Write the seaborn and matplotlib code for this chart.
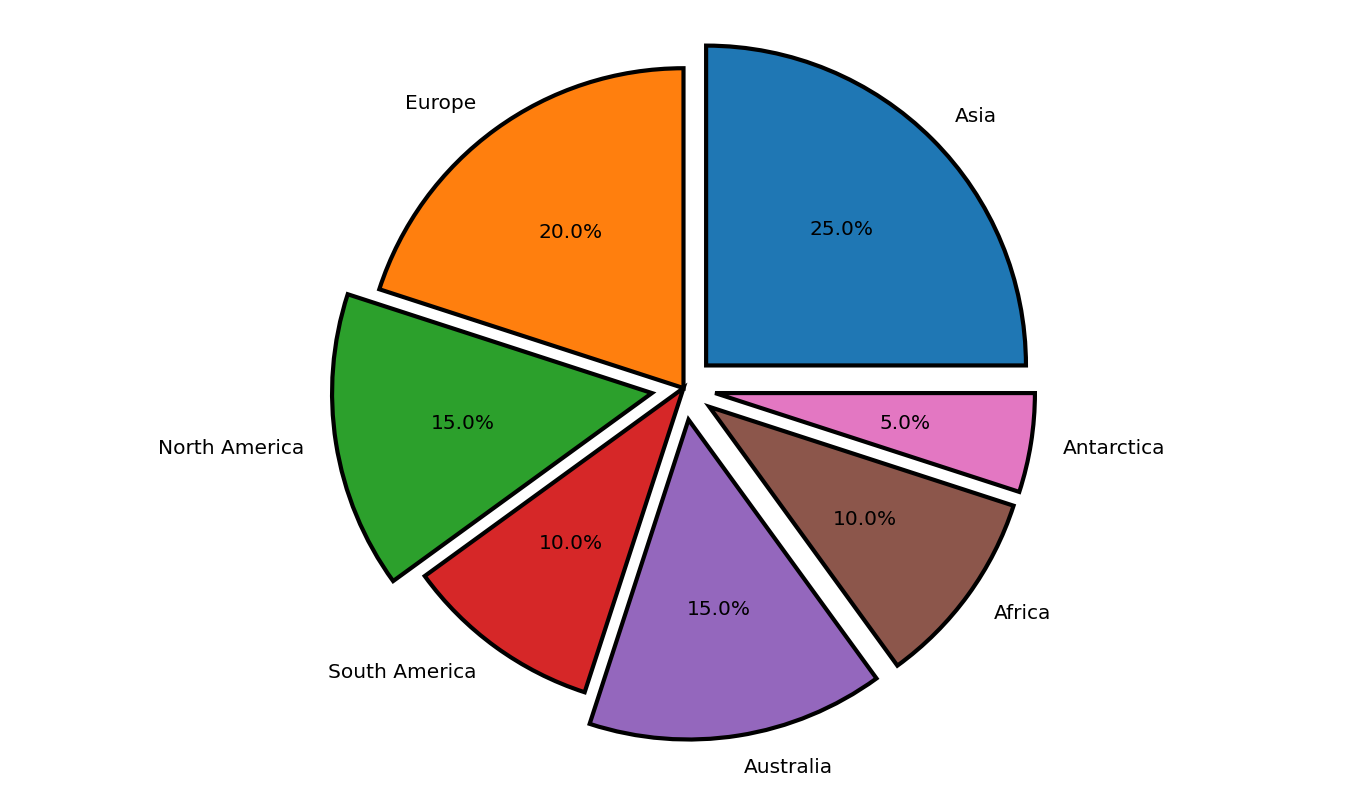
import matplotlib
matplotlib.use("Agg")
import matplotlib.pyplot as plt
import seaborn as sns

continents = ["Asia", "Europe", "North America", "South America", "Australia", "Africa", "Antarctica"]
shares = [25, 20, 15, 10, 15, 10, 5]
explode = [0.1, 0, 0.1, 0, 0.1, 0.1, 0.1]

sns.set_theme(style="white")
plt.rcParams['font.family'] = ['DejaVu Sans']
colors = sns.color_palette("tab10", len(continents))

fig, ax = plt.subplots(figsize=(13.67, 7.89), dpi=100)
ax.pie(shares, labels=continents, colors=colors, explode=explode, autopct="%1.1f%%",
       startangle=0, wedgeprops=dict(edgecolor="black", linewidth=3),
       textprops=dict(fontsize=14.5, color="black"))
ax.axis("equal")
fig.tight_layout()
fig.savefig("out.png", dpi=100)
